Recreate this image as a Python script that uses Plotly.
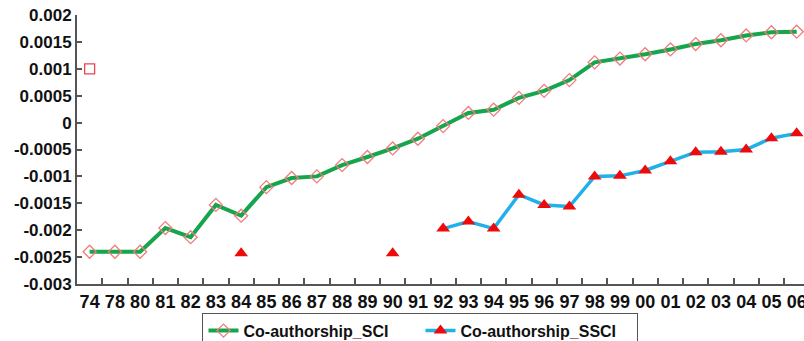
import plotly.graph_objects as go

# Year categories on the x axis
years = ["74", "78", "80", "81", "82", "83", "84", "85", "86", "87", "88", "89",
         "90", "91", "92", "93", "94", "95", "96", "97", "98", "99", "00", "01",
         "02", "03", "04", "05", "06"]

# Co-authorship index, SCI journals
sci = [-0.0024, -0.0024, -0.0024, -0.00196, -0.00213, -0.00153, -0.00173, -0.0012,
       -0.00103, -0.0010, -0.00079, -0.00064, -0.00048, -0.0003, -0.000065, 0.00018,
       0.00024, 0.00046, 0.00059, 0.00079, 0.00112, 0.00119, 0.00127, 0.00136,
       0.00146, 0.00153, 0.00162, 0.00168, 0.00169]

# Co-authorship index, SSCI journals (missing years left empty)
ssci = [None, None, None, None, None, None, -0.00243, None,
        None, None, None, None, -0.00243, None, -0.00197, -0.00184,
        -0.00197, -0.00134, -0.00153, -0.00156, -0.0010, -0.00099, -0.00089, -0.00072,
        -0.00055, -0.00054, -0.0005, -0.00029, -0.0002]

# Single stray point plotted in the first year
extra_year = ["74"]
extra_val = [0.001]

y_ticks = [0.002, 0.0015, 0.001, 0.0005, 0, -0.0005, -0.001, -0.0015, -0.002, -0.0025, -0.003]
y_tick_text = ["0.002", "0.0015", "0.001", "0.0005", "0", "-0.0005", "-0.001",
               "-0.0015", "-0.002", "-0.0025", "-0.003"]

FONT = "Liberation Sans, Arial, sans-serif"

fig = go.Figure()

fig.add_trace(go.Scatter(
    x=years, y=sci, name="Co-authorship_SCI", mode="lines+markers",
    line=dict(color="#16a54c", width=4),
    marker=dict(symbol="diamond-open", size=10, color="#f07c7c", line=dict(width=1.3)),
))

fig.add_trace(go.Scatter(
    x=years, y=ssci, name="Co-authorship_SSCI", mode="lines+markers",
    connectgaps=False,
    line=dict(color="#22b0e8", width=3.5),
    marker=dict(symbol="triangle-up", size=12, color="#ee0a0a"),
))

fig.add_trace(go.Scatter(
    x=extra_year, y=extra_val, mode="markers", showlegend=False,
    marker=dict(symbol="square-open", size=10, color="#e8454f", line=dict(width=1.3)),
))

fig.update_layout(
    width=804, height=341,
    margin=dict(l=77, r=0, t=15, b=57),
    paper_bgcolor="white", plot_bgcolor="white",
    showlegend=True,
    legend=dict(
        orientation="h", xref="container", yref="container",
        x=0.523, xanchor="center", y=0.083, yanchor="top",
        bordercolor="#555555", borderwidth=1, bgcolor="white",
        font=dict(family=FONT, size=16, color="#111111", weight="bold"),
        itemwidth=30, tracegroupgap=0,
        entrywidth=172, entrywidthmode="pixels",
    ),
)

fig.update_xaxes(
    type="category", categoryorder="array", categoryarray=years,
    range=[-0.5, 28.29],
    showline=True, linecolor="#555555", linewidth=2,
    ticks="inside", ticklen=6, tickcolor="#555555", tickwidth=1.5,
    tickson="boundaries", tickangle=0, automargin=False,
    tickfont=dict(family=FONT, size=18, color="#111111", weight="bold"),
    showgrid=False, zeroline=False,
)

fig.update_yaxes(
    range=[-0.003, 0.002],
    tickvals=y_ticks, ticktext=y_tick_text, automargin=False,
    showline=True, linecolor="#555555", linewidth=2,
    ticks="inside", ticklen=5, tickcolor="#555555", tickwidth=1.5,
    tickfont=dict(family=FONT, size=17, color="#111111", weight="bold"),
    showgrid=False, zeroline=False,
)

fig.write_html("out.html")
